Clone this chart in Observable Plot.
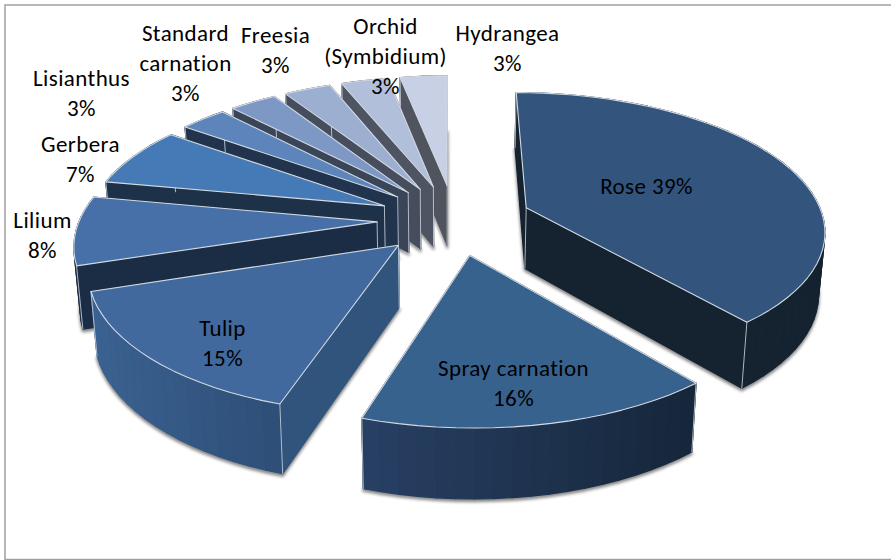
<!DOCTYPE html>
<html><head><meta charset="utf-8">
<script src="https://cdn.jsdelivr.net/npm/d3@7"></script>
<script src="https://cdn.jsdelivr.net/npm/@observablehq/plot@0.6"></script>
<style>html,body{margin:0;padding:0;background:#fff}svg{display:block}svg text{letter-spacing:.4px}</style>
</head><body><div id="chart"></div>
<script>
const names = ["Rose","Spray carnation","Tulip","Lilium","Gerbera","Lisianthus","Standard carnation","Freesia","Orchid (Symbidium)","Hydrangea"];
const shares = [39,16,15,8,7,3,3,3,3,3];
const labelTexts = ["Rose 39%","Spray carnation\n16%","Tulip\n15%","Lilium\n8%","Gerbera\n7%","Lisianthus\n3%","Standard\ncarnation\n3%","Freesia\n3%","Orchid\n(Symbidium)\n3%","Hydrangea\n3%"];
const topColors = ["#32547d","#38628e","#41699d","#4770a8","#467ab6","#5e85bb","#7e98c6","#9cafd0","#b2bfda","#c7d0e4"];
const cutColors = ["#152230","#1a2c42","#30547c","#1b2d44","#1d3249","#22344d","#3a4557","#464e5e","#4e5462","#50545e"];
const wallLeft  = ["#152230","#274064","#3b6291","#1b2d44","#1d3249","#22344d","#3a4557","#464e5e","#4e5462","#50545e"];
const wallRight = ["#152230","#16263a","#2d4e76","#1b2d44","#1d3249","#22344d","#3a4557","#464e5e","#4e5462","#50545e"];
const labelX = [646,513,222,42,80,81,185,275,385,507];
const labelY = [184,381,341,233,157,91,61,48,54,46];

// Perspective pie model
const W = 891, H = 560;
const cam = {cx:447, base:238, h:940, p:0.0005, kx:1.012, narrow:0.983};
const pie = {X:7, Y:-41, R:300, explode:78};
const total = d3.sum(shares);

function project(X, Y) {
  const s = 1 / (1 - cam.p * Y);
  return {x: cam.cx + cam.kx * X * s, y: cam.base + cam.h * (s - 1), s};
}
function lower(q) {
  return {x: cam.cx + (q.x - cam.cx) * cam.narrow, y: q.y + 18 + 44 * q.s};
}

let cum = 0;
const slices = shares.map((v, i) => {
  const a0 = cum / total * 2 * Math.PI; cum += v;
  const a1 = cum / total * 2 * Math.PI;
  const mid = (a0 + a1) / 2;
  const ox = pie.X + pie.explode * Math.sin(mid), oy = pie.Y - pie.explode * Math.cos(mid);
  const n = Math.max(4, Math.round((a1 - a0) / (Math.PI / 60)));
  const ground = d3.range(n + 1).map(k => {
    const a = a0 + (a1 - a0) * k / n;
    return [ox + pie.R * Math.sin(a), oy - pie.R * Math.cos(a)];
  });
  return {i, ox, oy, ground};
});
slices.sort((a, b) => a.oy - b.oy);

let uid = 0;
const poly = (pts, c) => { const id = uid++; return pts.concat([pts[0]]).map(p => ({id, x:p.x, y:p.y, c})); };
const xy = {x:"x", y:"y", z:"id"};
const marks = [];

for (const sl of slices) {
  const {i, ox, oy, ground} = sl;
  const apex = project(ox, oy);
  const arc = ground.map(g => project(g[0], g[1]));
  const topPts = [apex, ...arc];
  const botPts = topPts.map(lower);

  // soft shadow of the underside
  marks.push(Plot.line(poly(botPts, "#8a8a8a"), {...xy, fill:"c", stroke:"c", strokeWidth:2.5, dy:2, imageFilter:"blur(1.4px)"}));

  // walls, painted back to front
  const quads = [];
  const xs = d3.extent(arc, d => d.x);
  const mix = d3.interpolateRgb(wallLeft[i], wallRight[i]);
  const addQuad = (g0, g1, c) => {
    const a = project(g0[0], g0[1]), b = project(g1[0], g1[1]);
    quads.push({k:(g0[1] + g1[1]) / 2, pts:[a, b, lower(b), lower(a)], c});
  };
  for (let k = 0; k < ground.length - 1; k++) {
    const m = project((ground[k][0] + ground[k + 1][0]) / 2, (ground[k][1] + ground[k + 1][1]) / 2);
    addQuad(ground[k], ground[k + 1], d3.color(mix((m.x - xs[0]) / (xs[1] - xs[0]))).formatHex());
  }
  addQuad([ox, oy], ground[0], cutColors[i]);
  addQuad([ox, oy], ground[ground.length - 1], cutColors[i]);
  quads.sort((a, b) => a.k - b.k);
  const wallRows = quads.flatMap(q => poly(q.pts, q.c));
  marks.push(Plot.line(wallRows, {...xy, fill:"c", stroke:"c", strokeWidth:1.2}));

  // light corner lines
  const corners = [apex, arc[0], arc[arc.length - 1]].flatMap(q => {
    const id = uid++, b = lower(q);
    return [{id, x:q.x, y:q.y}, {id, x:b.x, y:b.y}];
  });
  marks.push(Plot.line(corners, {...xy, stroke:"#c9d0d8", strokeWidth:1, strokeOpacity:0.85}));

  // top face with its light rim
  marks.push(Plot.line(poly(topPts, topColors[i]), {...xy, fill:"c", stroke:"#d3dae2", strokeWidth:1.1}));
}

const labels = names.map((n, i) => ({name:n, text:labelTexts[i], x:labelX[i], y:labelY[i]}));
marks.push(Plot.text(labels, {x:"x", y:"y", text:"text", fontSize:23, lineHeight:30/23, fill:"#000", textAnchor:"middle", lineAnchor:"middle"}));
marks.push(Plot.frame({stroke:"#a0a0a0", strokeWidth:1.5, insetLeft:4.5, insetTop:4.5, insetRight:-3, insetBottom:1}));

const chart = Plot.plot({
  width:W, height:H, margin:0,
  style:{fontFamily:"Carlito, Lato, 'Open Sans', sans-serif", background:"#fff", overflow:"hidden"},
  x:{domain:[0,W], range:[0,W], axis:null},
  y:{domain:[0,H], range:[0,H], axis:null},
  color:{type:"identity"},
  marks
});
document.getElementById("chart").append(chart);
</script></body></html>
